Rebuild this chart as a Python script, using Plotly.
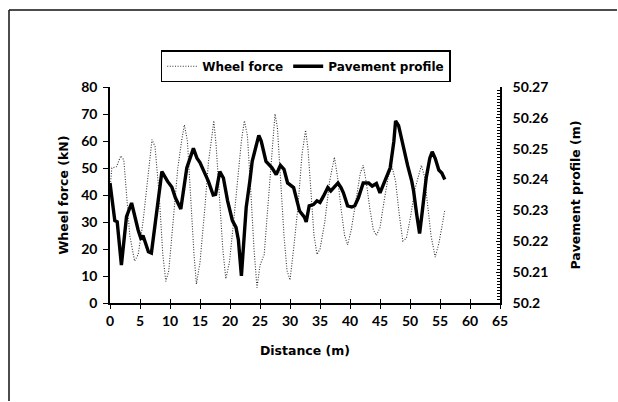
import plotly.graph_objects as go

# Wheel force along the test section (distance in m, force in kN)
force_distance = [0.0, 0.3, 1.1, 1.8, 2.3, 2.8, 3.3, 4.1, 4.7, 5.5, 6.2, 7.0, 7.5, 8.2, 8.8,
                  9.3, 9.8, 10.5, 11.3, 12.0, 12.4, 12.9, 13.5, 14.0, 14.4, 15.0, 15.8, 16.4,
                  17.0, 17.3, 17.7, 18.3, 18.8, 19.3, 19.9, 20.6, 21.3, 21.9, 22.4, 22.9, 23.5,
                  24.0, 24.5, 25.0, 25.7, 26.3, 26.9, 27.5, 27.9, 28.4, 29.0, 29.5, 30.0, 30.6,
                  31.3, 32.0, 32.6, 33.0, 33.5, 34.0, 34.5, 35.0, 35.8, 36.6, 37.4, 37.9, 38.5,
                  39.1, 39.6, 40.2, 41.0, 41.7, 42.2, 42.7, 43.3, 43.9, 44.4, 45.0, 45.7, 46.4,
                  47.0, 47.6, 48.2, 48.8, 49.4, 50.1, 50.8, 51.5, 51.9, 52.4, 52.9, 53.5, 54.2,
                  54.8, 55.3, 55.8]
wheel_force = [42, 50, 50.5, 54.5, 53, 40, 25, 15.5, 18, 30, 45, 60.5, 58, 40, 18,
               8, 12, 30, 50, 61, 66, 60, 35, 18, 7, 15, 35, 52,
               62, 67.5, 58, 35, 20, 9, 15, 30, 45, 60, 67.5, 62, 40,
               20, 5.7, 14, 18, 35, 55, 70, 65, 45, 25, 12, 8.5, 20,
               35, 55, 64, 57, 40, 25, 18, 20, 30, 45, 54, 47, 35,
               25, 21.5, 27, 38, 48, 51, 45, 35, 27, 25, 28, 38, 47,
               50.5, 45, 33, 23, 24, 32, 42, 48, 51, 47, 38, 25, 17,
               22, 28, 34.5]

# Pavement surface elevation (distance in m, elevation in m)
profile_distance = [0.0, 0.8, 1.2, 1.9, 2.75, 3.6, 4.7, 5.2, 5.5, 6.4, 6.9, 8.65, 9.6, 10.3,
                    10.9, 11.8, 12.8, 13.9, 14.5, 15.0, 15.9, 16.4, 17.2, 17.6, 18.3, 18.9,
                    19.6, 20.4, 21.0, 21.4, 21.9, 22.7, 23.3, 23.7, 24.8, 25.2, 26.0, 27.0,
                    27.7, 28.4, 29.0, 29.6, 30.6, 30.9, 31.6, 32.4, 32.7, 33.2, 33.9, 34.5,
                    35.0, 35.6, 36.3, 36.8, 38.0, 38.5, 38.9, 39.6, 40.3, 40.8, 41.4, 42.2,
                    43.1, 43.7, 44.4, 45.0, 45.7, 46.7, 47.3, 47.6, 48.1, 48.8, 49.6, 50.3,
                    50.6, 51.1, 51.6, 52.0, 52.7, 53.3, 53.7, 54.2, 54.8, 55.3, 55.8]
pavement_profile = [50.2389, 50.2267, 50.2263, 50.2123, 50.2280, 50.2324, 50.2236, 50.2206,
                    50.2219, 50.2166, 50.2162, 50.2426, 50.2394, 50.2376, 50.2341, 50.2305,
                    50.2438, 50.2501, 50.2469, 50.2455, 50.2416, 50.2394, 50.2350, 50.2352,
                    50.2426, 50.2405, 50.2331, 50.2267, 50.2245, 50.2204, 50.2088, 50.2310,
                    50.2394, 50.2459, 50.2543, 50.2525, 50.2459, 50.2438, 50.2416, 50.2446,
                    50.2433, 50.2389, 50.2374, 50.2350, 50.2298, 50.2278, 50.2263, 50.2315,
                    50.2319, 50.2331, 50.2326, 50.2347, 50.2374, 50.2363, 50.2389, 50.2374,
                    50.2357, 50.2315, 50.2311, 50.2315, 50.2341, 50.2389, 50.2389, 50.2379,
                    50.2387, 50.2357, 50.2389, 50.2438, 50.2522, 50.2590, 50.2575, 50.2511,
                    50.2446, 50.2394, 50.2363, 50.2289, 50.2225, 50.2289, 50.2405, 50.2469,
                    50.2490, 50.2469, 50.2431, 50.2421, 50.2400]

x_ticks = list(range(0, 70, 5))
left_ticks = list(range(0, 90, 10))
right_tick_vals = [50.20, 50.21, 50.22, 50.23, 50.24, 50.25, 50.26, 50.27]
right_tick_text = ["50.2", "50.21", "50.22", "50.23", "50.24", "50.25", "50.26", "50.27"]

TICK_FONT = dict(family="Lato", size=14, weight="bold", color="black")
TEXT_FONT = dict(family="DejaVu Sans", size=12.5, weight="bold", color="black")

fig = go.Figure()

fig.add_trace(go.Scatter(
    x=force_distance, y=wheel_force, name="Wheel force", mode="lines",
    line=dict(color="#333333", width=1.1, dash="1px,1.6px"), yaxis="y",
))
fig.add_trace(go.Scatter(
    x=profile_distance, y=pavement_profile, name="Pavement profile", mode="lines",
    line=dict(color="black", width=3.4), yaxis="y2",
))
# carrier for the inner half of the crossing x ticks
fig.add_trace(go.Scatter(x=[], y=[], xaxis="x2", yaxis="y", showlegend=False,
                         hoverinfo="skip"))

fig.update_layout(
    width=618, height=402,
    margin=dict(l=110, r=118, t=87, b=99),
    paper_bgcolor="white", plot_bgcolor="white",
    font=TICK_FONT,
    showlegend=True,
    legend=dict(
        orientation="h", x=0.13, xanchor="left", y=1.17, yanchor="top",
        bordercolor="black", borderwidth=1.5, bgcolor="white",
        font=dict(family="DejaVu Sans", size=12, weight="bold", color="black"),
        itemwidth=30, tracegroupgap=0,
    ),
    xaxis=dict(
        range=[0, 65], tickvals=x_ticks, showgrid=False, zeroline=False,
        showline=True, linecolor="black", linewidth=1.5,
        ticks="outside", ticklen=4, tickwidth=1, tickcolor="black",
        tickfont=TICK_FONT,
        title=dict(text="Distance (m)", font=TEXT_FONT, standoff=19),
    ),
    xaxis2=dict(
        range=[0, 65], tickvals=x_ticks, overlaying="x", anchor="y", side="bottom",
        showgrid=False, zeroline=False, showline=False, showticklabels=False,
        ticks="inside", ticklen=4, tickwidth=1, tickcolor="black",
    ),
    yaxis=dict(
        range=[0, 80], tickvals=left_ticks, showgrid=False, zeroline=False,
        showline=True, linecolor="black", linewidth=1.5,
        ticks="outside", ticklen=5, tickwidth=1, tickcolor="black",
        tickfont=TICK_FONT, ticklabelstandoff=3,
        title=dict(text="Wheel force (kN)", font=TEXT_FONT, standoff=10),
    ),
    yaxis2=dict(
        range=[50.2, 50.27], overlaying="y", side="right", anchor="x",
        tickvals=right_tick_vals, ticktext=right_tick_text,
        showgrid=False, zeroline=False,
        showline=True, linecolor="black", linewidth=1.5,
        ticks="inside", ticklen=4, tickwidth=1, tickcolor="black",
        minor=dict(dtick=0.001, ticks="inside", ticklen=3, tickwidth=1, tickcolor="black"),
        tickfont=TICK_FONT, ticklabelstandoff=8,
        title=dict(text="Pavement profile (m)", font=TEXT_FONT, standoff=24),
    ),
    shapes=[
        # frame around the chart: top and left edges
        dict(type="line", xref="paper", yref="paper",
             x0=(9 - 110) / 390, x1=(617 - 110) / 390,
             y0=(303 - 10) / 216, y1=(303 - 10) / 216,
             line=dict(color="#111111", width=1.5)),
        dict(type="line", xref="paper", yref="paper",
             x0=(9 - 110) / 390, x1=(9 - 110) / 390,
             y0=(303 - 10) / 216, y1=(303 - 401) / 216,
             line=dict(color="#111111", width=1.5)),
    ],
)

fig.write_html("out.html")
